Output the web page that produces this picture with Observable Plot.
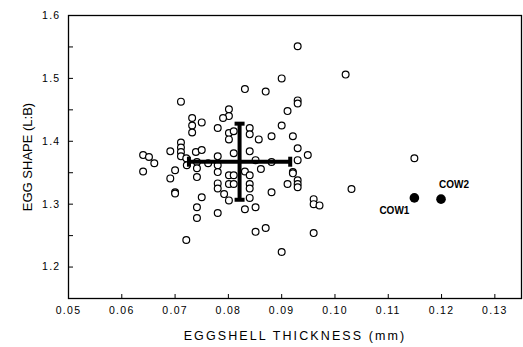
<!DOCTYPE html>
<html><head><meta charset="utf-8">
<script src="https://cdn.jsdelivr.net/npm/d3@7"></script>
<script src="https://cdn.jsdelivr.net/npm/@observablehq/plot@0.6"></script>
<style>
body{margin:0;background:#fff;}
#chart g[aria-label="x-axis tick label"] text,
#chart g[aria-label="y-axis tick label"] text{letter-spacing:1.3px;}
#chart g[aria-label="x-axis label"] text{letter-spacing:2.1px;font-size:12.5px;}
#chart g[aria-label="y-axis label"] text{font-size:13px;}
#chart g[aria-label="cow labels"] text{letter-spacing:1.2px;}
</style></head><body><div id="chart"></div>
<script>
// Eggshell thickness (mm) and egg shape (L:B) for each egg
const thickness = [
0.0930,0.0900,0.1020,0.0831,0.0870,0.0711,0.0930,0.0930,0.0801,0.0911,
0.0801,0.0790,0.0732,0.0732,0.0732,0.0750,0.0780,0.0900,0.0840,0.0840,
0.0801,0.0801,0.0810,0.0857,0.0881,0.0921,0.0930,0.0711,0.0711,0.0711,
0.0711,0.0691,0.0739,0.0750,0.0780,0.0810,0.0840,0.0640,0.0651,0.0661,
0.0640,0.0721,0.0722,0.0741,0.0741,0.0741,0.0762,0.0780,0.0780,0.0780,
0.0780,0.0801,0.0810,0.0801,0.0810,0.0831,0.0840,0.0840,0.0840,0.0851,
0.0861,0.0881,0.0881,0.0921,0.0921,0.0930,0.0949,0.0911,0.0930,0.0930,
0.0930,0.1031,0.0960,0.0960,0.0971,0.0960,0.0900,0.1149,0.0700,0.0691,
0.0700,0.0700,0.0750,0.0792,0.0801,0.0840,0.0851,0.0831,0.0741,0.0741,
0.0780,0.0851,0.0870,0.0721
];
const shape = [
1.551,1.500,1.506,1.483,1.479,1.463,1.465,1.460,1.451,1.448,
1.440,1.437,1.437,1.425,1.414,1.430,1.421,1.425,1.421,1.411,
1.413,1.403,1.416,1.403,1.408,1.408,1.389,1.398,1.390,1.383,
1.376,1.384,1.383,1.386,1.376,1.381,1.384,1.378,1.375,1.365,
1.352,1.373,1.362,1.367,1.357,1.343,1.365,1.362,1.351,1.333,
1.325,1.346,1.346,1.332,1.332,1.352,1.346,1.332,1.325,1.370,
1.356,1.367,1.319,1.351,1.349,1.370,1.378,1.332,1.338,1.332,
1.327,1.324,1.308,1.300,1.298,1.254,1.224,1.373,1.354,1.341,
1.319,1.317,1.311,1.316,1.306,1.310,1.295,1.292,1.295,1.278,
1.286,1.256,1.262,1.243
];
const cowNames = ["COW1", "COW2"];
const cowThickness = [0.1149, 0.1199];
const cowShape = [1.310, 1.308];
const meanThickness = [0.0821];
const sdThickness = [0.0095];
const meanShape = [1.3675];
const sdShape = [0.0605];
const xTickValues = [0.06,0.07,0.08,0.09,0.10,0.11,0.12,0.13];
const xLabelValues = [0.05,0.06,0.07,0.08,0.09,0.10,0.11,0.12,0.13];
const yTickValues = [1.2,1.25,1.3,1.35,1.4,1.45,1.5,1.55];
const yLabelValues = [1.2,1.3,1.4,1.5,1.6];
const xTitle = "EGGSHELL THICKNESS (mm)";
const yTitle = "EGG SHAPE (L:B)";

const W = 523, H = 347, mL = 68, mR = 2, mT = 15, mB = 49;
const innerW = W - mL - mR, innerH = H - mT - mB;
const eggs = thickness.map((t, i) => ({t, s: shape[i]}));
const cows = cowNames.map((name, i) => ({name, t: cowThickness[i], s: cowShape[i]}));
const summary = meanThickness.map((t, i) => ({t, s: meanShape[i], dt: sdThickness[i], ds: sdShape[i]}));
const hcap = {draw(ctx) { ctx.rect(-5, -2, 10, 4); }};
const vcap = {draw(ctx) { ctx.rect(-2, -5, 4, 10); }};

const chart = Plot.plot({
  width: W, height: H,
  marginLeft: mL, marginRight: mR, marginTop: mT, marginBottom: mB,
  x: {domain: [0.05, 0.135]},
  y: {domain: [1.15, 1.6]},
  style: {fontFamily: "'Liberation Sans', Arial, Helvetica, sans-serif", fontSize: "10.5px", color: "black", background: "white"},
  marks: [
    Plot.axisX(xLabelValues, {tickSize: 0, tickPadding: 8, tickFormat: d => d.toFixed(2), fill: "black",
      label: xTitle, labelAnchor: "center", labelOffset: 41, labelArrow: "none"}),
    Plot.axisY(yLabelValues, {tickSize: 0, tickPadding: 8, tickFormat: d => d.toFixed(1), fill: "black",
      label: yTitle, labelAnchor: "center", labelOffset: 46, labelArrow: "none"}),
    Plot.ruleX(xTickValues, {x: d => d, insetTop: innerH - 4, stroke: "black", strokeWidth: 1}),
    Plot.ruleY(yTickValues, {y: d => d, insetRight: innerW - 5, stroke: "black", strokeWidth: 1}),
    Plot.dot(eggs, {x: "t", y: "s", r: 3.4, stroke: "black", fill: "white", strokeWidth: 1.2}),
    Plot.ruleX(summary, {x: "t", y1: d => d.s - d.ds, y2: d => d.s + d.ds, stroke: "black", strokeWidth: 4}),
    Plot.ruleY(summary, {y: "s", x1: d => d.t - d.dt, x2: d => d.t + d.dt, stroke: "black", strokeWidth: 4}),
    Plot.dot(summary, {x: "t", y: d => d.s - d.ds, symbol: hcap, fill: "black", stroke: null}),
    Plot.dot(summary, {x: "t", y: d => d.s + d.ds, symbol: hcap, fill: "black", stroke: null}),
    Plot.dot(summary, {x: d => d.t - d.dt, y: "s", symbol: vcap, fill: "black", stroke: null}),
    Plot.dot(summary, {x: d => d.t + d.dt, y: "s", symbol: vcap, fill: "black", stroke: null}),
    Plot.dot(cows, {x: "t", y: "s", r: 4.8, fill: "black", stroke: null}),
    Plot.text(cows.filter(d => d.name === "COW1"), {x: "t", y: "s", text: "name", dx: -20, dy: 13, fontWeight: "bold", fontSize: 10, ariaLabel: "cow labels"}),
    Plot.text(cows.filter(d => d.name === "COW2"), {x: "t", y: "s", text: "name", dx: 13, dy: -14, fontWeight: "bold", fontSize: 10, ariaLabel: "cow labels"}),
    Plot.frame({stroke: "black", strokeWidth: 1.3})
  ]
});
document.getElementById("chart").appendChild(chart);
</script>
</body></html>
